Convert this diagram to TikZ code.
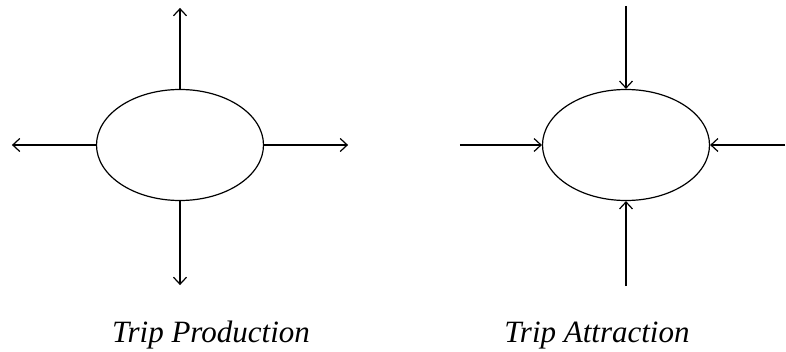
\documentclass[tikz,border=0pt]{standalone}
\usepackage{fontspec}
\setmainfont{Liberation Serif}
\usetikzlibrary{arrows.meta,shapes,positioning}
\tikzset{>={Straight Barb[length=7pt,width=13pt]}}
\tikzset{zone/.style={shape=ellipse, draw, line width=1.2pt, fill=white,
    minimum width=167pt, minimum height=111pt, inner sep=0pt}}
\tikzset{flow/.style={->, draw=black, line width=1.2pt}}
\tikzset{caption/.style={font=\fontsize{31}{36}\selectfont\itshape, anchor=base}}

\begin{document}
\begin{tikzpicture}[x=1pt, y=-1pt]
    \useasboundingbox (0,0) rectangle (786,352);

    \node[zone](prod) at (180,145) {};
    \node[zone](attr) at (626,145) {};

    %%%% Production ends
    \coordinate[above=81pt of prod.north](pN);
    \coordinate[below=84pt of prod.south](pS);
    \coordinate[left=84pt of prod.west](pW);
    \coordinate[right=84pt of prod.east](pE);

    %%%% Attraction ends
    \coordinate[above=83pt of attr.north](aN);
    \coordinate[below=85pt of attr.south](aS);
    \coordinate[left=82pt of attr.west](aW);
    \coordinate[right=75pt of attr.east](aE);

    %%%% Captions
    \node[caption](capP) at (211,342) {Trip Production};
    \node[caption](capA) at (597,342) {Trip Attraction};

    %%%% Left figure
    \draw[flow] (prod.north) to (pN);
    \draw[flow] (prod.south) to (pS);
    \draw[flow] (prod.west) to (pW);
    \draw[flow] (prod.east) to (pE);

    %%%% Right figure
    \draw[flow] (aN) to (attr.north);
    \draw[flow] (aS) to (attr.south);
    \draw[flow] (aW) to (attr.west);
    \draw[flow] (aE) to (attr.east);
\end{tikzpicture}
\end{document}
